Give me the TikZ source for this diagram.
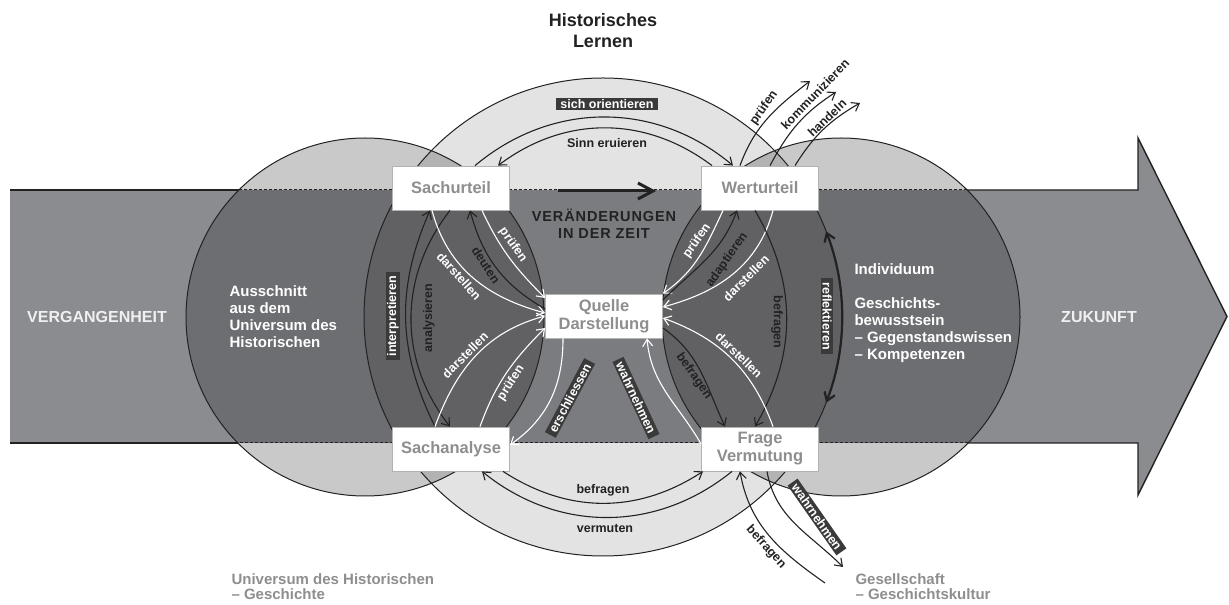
\documentclass[tikz,border=0pt]{standalone}
\usepackage{fontspec}
\setmainfont{Liberation Sans}
\usepackage{xcolor}
\definecolor{bandgray}{HTML}{8B8C90}
\definecolor{boxtext}{HTML}{8E8E8E}
\definecolor{tagfill}{HTML}{3A3A3A}
\definecolor{inkdark}{HTML}{222222}
\usepackage{tikz}
\usetikzlibrary{arrows.meta}

\tikzset{
  box/.style={draw=gray!60, fill=white, line width=0.8pt, minimum width=117pt, minimum height=44pt,
    inner sep=0pt, align=center, text=boxtext, font=\fontsize{16.5}{18}\selectfont\bfseries},
  darktag/.style={fill=tagfill, text=white, inner xsep=4pt, inner ysep=1.5pt, font=\fontsize{12.5}{14}\selectfont\bfseries},
  lbl/.style={text=inkdark, inner sep=1pt, font=\fontsize{12.5}{14}\selectfont\bfseries},
  wlbl/.style={lbl, text=white},
  arr/.style={draw=inkdark, line width=1.1pt, -{Straight Barb[length=7pt,width=10pt]}},
  warr/.style={arr, draw=white},
  bandline/.style={draw=inkdark, line width=1.4pt},
  circtext/.style={text=white, align=left, anchor=west, font=\fontsize{15}{17}\selectfont\bfseries},
  greytext/.style={text=boxtext, align=left, anchor=west, font=\fontsize{15}{15}\selectfont\bfseries},
}

\begin{document}
\begin{tikzpicture}[x=1pt, y=1pt]
  \useasboundingbox (0,0) rectangle (1229,605);

  % band with arrow head
  \fill[bandgray] (10,162) -- (1138,162) -- (1138,110) -- (1227,288.5) -- (1138,467) -- (1138,415) -- (10,415) -- cycle;

  \coordinate (lc) at (365,288);
  \coordinate (mc) at (603,288);
  \coordinate (rc) at (841,288);
  \fill[black, fill opacity=0.21] (lc) circle[radius=179];
  \fill[black, fill opacity=0.21] (rc) circle[radius=179];
  \fill[black, fill opacity=0.11] (mc) circle[radius=239];
  \draw[inkdark, line width=1pt] (lc) circle[radius=179];
  \draw[inkdark, line width=1pt] (rc) circle[radius=179];
  \draw[inkdark, line width=1pt] (mc) circle[radius=239];

  \draw[bandline] (10,415) -- (239,415);
  \draw[bandline, line width=1pt, dash pattern=on 3pt off 2pt] (239,415) -- (967,415);
  \draw[bandline] (967,415) -- (1138,415) -- (1138,467) -- (1227,288.5) -- (1138,110) -- (1138,162) -- (968,162);
  \draw[bandline, line width=1pt, dash pattern=on 3pt off 2pt] (968,162) -- (238,162);
  \draw[bandline] (238,162) -- (10,162);

  \node[box] (su) at (451,417) {Sachurteil};
  \node[box] (wu) at (760,417) {Werturteil};
  \node[box] (sa) at (451,156) {Sachanalyse};
  \node[box] (fv) at (760,156) {Frage\\Vermutung};
  \node[box] (qd) at (604,289) {Quelle\\Darstellung};

  \node[font=\fontsize{18}{21}\selectfont\bfseries, text=inkdark, align=center] (title) at (603,574) {Historisches\\Lernen};
  \node[text=white!94!black, font=\fontsize{16}{18}\selectfont\bfseries] (past) at (97,288) {VERGANGENHEIT};
  \node[text=white!94!black, font=\fontsize{16}{18}\selectfont\bfseries] (future) at (1099,288) {ZUKUNFT};
  \node[circtext] (aus) at (226,288) {Ausschnitt\\aus dem\\Universum des\\Historischen};
  \node[circtext] (ind) at (851,292) {Individuum\\[17pt]Geschichts-\\bewusstsein\\– Gegenstandswissen\\– Kompetenzen};
  \node[greytext] (uni) at (228,18) {Universum des Historischen\\– Geschichte};
  \node[greytext] (ges) at (852,18) {Gesellschaft\\– Geschichtskultur};
  \node[text=inkdark, align=center, font=\fontsize{14.5}{17}\selectfont\bfseries\addfontfeatures{LetterSpace=6}] (vz) at (604,381) {VERÄNDERUNGEN\\IN DER ZEIT};

  \draw[inkdark, line width=3pt, -{Straight Barb[length=15pt,width=16pt]}] ([xshift=48pt,yshift=-3pt]su.east) -- ([xshift=-45pt,yshift=-3pt]wu.west);

  % top
  \draw[arr] ([xshift=24pt]su.north) to[bend left=40] ([xshift=-27pt]wu.north);
  \draw[arr] ([xshift=-48pt]wu.north) to[bend right=37] ([xshift=47pt]su.north);
  \node[darktag] (so) at (607,501) {sich orientieren};
  \node[lbl] (se) at (607,462) {Sinn eruieren};

  \coordinate (pr) at (810,524);
  \coordinate (ko) at (836,513);
  \coordinate (ha) at (860,502);
  \draw[arr] ([xshift=-20pt]wu.north) to[out=70,in=218] (pr);
  \draw[arr] ([xshift=10pt]wu.north) to[out=62,in=213] (ko);
  \draw[arr] ([xshift=35pt]wu.north) to[out=58,in=210] (ha);
  \node[lbl, rotate=55] at (764,497) {prüfen};
  \node[lbl, rotate=46] at (815,511) {kommunizieren};
  \node[lbl, rotate=44] at (827,487) {handeln};

  % left lens
  \draw[arr] ([xshift=-16pt]sa.north) to[bend left=25] ([xshift=-21pt]su.south);
  \draw[arr] ([xshift=-1pt]su.south) to[bend right=38] ([xshift=-1pt]sa.north);
  \node[darktag, rotate=90] at (393,289) {interpretieren};
  \node[lbl, rotate=90] at (429,287) {analysieren};

  \draw[warr] ([xshift=-19pt]su.south) to[out=-75,in=165] ([yshift=3pt]qd.west);
  \draw[warr] ([xshift=31pt]su.south) to[out=-65,in=135] ([yshift=18pt]qd.west);
  \draw[arr] ([yshift=7pt]qd.west) to[out=150,in=-75] ([xshift=19pt]su.south);
  \draw[warr] ([xshift=-16pt]sa.north) to[out=70,in=195] (qd.west);
  \draw[warr] ([xshift=29pt]sa.north) to[out=70,in=225] ([yshift=-12pt]qd.west);
  \node[wlbl, rotate=-48] at (459,329) {darstellen};
  \node[lbl, rotate=-57] at (486,340) {deuten};
  \node[wlbl, rotate=-55] at (513,360) {prüfen};
  \node[wlbl, rotate=45] at (465,250) {darstellen};
  \node[wlbl, rotate=57] at (511,222) {prüfen};

  % centre bottom
  \draw[warr] ([xshift=-41pt]qd.south) to[out=-90,in=35] ([yshift=4pt]sa.east);
  \draw[warr] ([yshift=5pt]fv.west) to[out=120,in=-85] ([xshift=43pt]qd.south);
  \node[darktag, rotate=62] at (570,207) {erschliessen};
  \node[darktag, rotate=-65] at (636,207) {wahrnehmen};

  % right lens
  \draw[warr] ([xshift=-37pt]wu.south) to[out=-115,in=35] (qd.north east);
  \draw[arr] ([yshift=16pt]qd.east) to[out=45,in=-110] ([xshift=-23pt]wu.south);
  \draw[warr] ([xshift=13pt]wu.south) to[out=-105,in=15] ([yshift=9pt]qd.east);
  \draw[arr] ([xshift=-5pt]wu.south) to[bend left=30] ([xshift=-5pt]fv.north);
  \draw[warr] ([xshift=13pt]fv.north) to[out=110,in=-20] ([yshift=-2pt]qd.east);
  \draw[arr] ([yshift=-12pt]qd.east) to[out=-35,in=115] ([xshift=-35pt]fv.north);
  \node[wlbl, rotate=55] at (697,364) {prüfen};
  \node[lbl, rotate=55] at (727,345) {adaptieren};
  \node[wlbl, rotate=45] at (746,327) {darstellen};
  \node[lbl, rotate=-90] at (777,283) {befragen};
  \node[wlbl, rotate=-44] at (739,250) {darstellen};
  \node[lbl, rotate=-55] at (694,229) {befragen};

  \draw[inkdark, line width=2.2pt, {Straight Barb[length=8pt,width=11pt]}-{Straight Barb[length=8pt,width=11pt]}]
    ([shift={(-21:239)}]mc) arc[start angle=-21, end angle=21, radius=239];
  \node[darktag, rotate=-90] at (827,289) {reflektieren};

  % bottom
  \draw[arr] ([xshift=52pt]sa.south) to[bend right=33] ([xshift=-57pt]fv.south);
  \draw[arr] ([xshift=-28pt]fv.south) to[bend left=39] ([xshift=31pt]sa.south);
  \node[lbl] at (603,115) {befragen};
  \node[lbl] at (605,77) {vermuten};

  \coordinate (bq) at (825,22);
  \coordinate (wq) at (843,38);
  \draw[arr] (bq) to[out=145,in=-80] ([xshift=-20pt]fv.south);
  \draw[arr] ([xshift=7pt]fv.south) to[out=-80,in=135] (wq);
  \node[lbl, rotate=-48] at (766,58) {befragen};
  \node[darktag, rotate=-55] at (817,88) {wahrnehmen};
\end{tikzpicture}
\end{document}
